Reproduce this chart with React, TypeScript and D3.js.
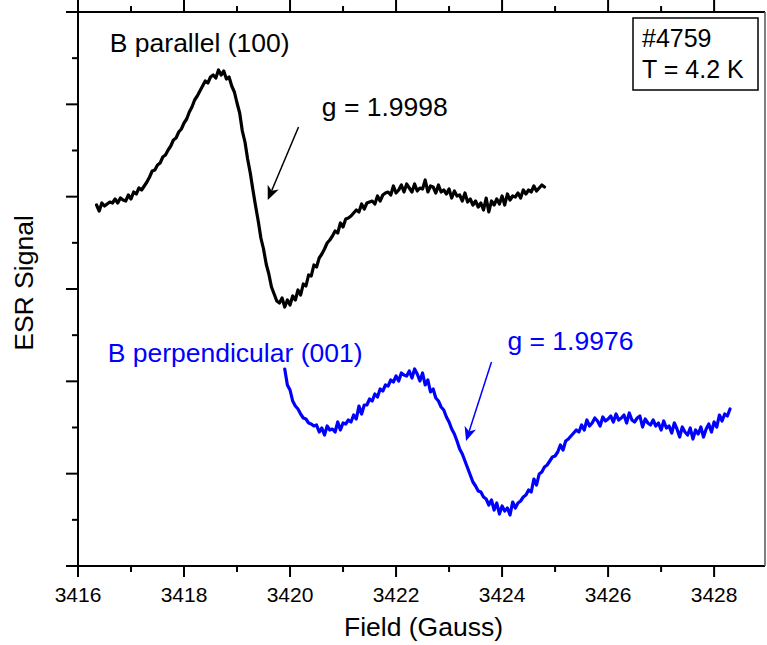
import React from "react";
import * as d3 from "d3";

// Field sampling (Gauss) and ESR signal (arbitrary units)
const parStart = 3416.35;
const perpStart = 3419.9;
const fieldStep = 0.05;

const parallelSignal = [
  84, 78, 86, 83, 85, 87, 86, 90, 86, 91, 89, 88, 94, 90, 97, 95, 101, 99, 103, 107,
  112, 118, 119, 124, 126, 132, 134, 139, 143, 149, 151, 157, 160, 166, 170, 177, 182, 189, 193, 198,
  203, 208, 206, 212, 214, 211, 219, 214, 218, 210, 212, 203, 197, 186, 176, 158, 147, 130, 116, 99,
  83, 68, 51, 40, 25, 15, 2, -5, -12, -14, -9, -18, -11, -16, -7, -11, -1, -6, 5, 3,
  14, 13, 24, 22, 31, 35, 40, 46, 49, 53, 58, 56, 66, 62, 70, 71, 73, 76, 79, 77,
  85, 80, 86, 87, 88, 85, 93, 88, 94, 96, 97, 94, 103, 96, 99, 104, 97, 105, 101, 97,
  105, 98, 101, 100, 109, 97, 103, 102, 96, 104, 97, 99, 95, 100, 91, 98, 93, 94, 88, 96,
  87, 90, 84, 88, 82, 86, 79, 91, 77, 88, 84, 90, 85, 93, 84, 95, 89, 93, 92, 96,
  91, 99, 95, 99, 97, 103, 98, 101, 104, 102,
];

const perpendicularSignal = [
  -80, -96, -101, -112, -117, -120, -125, -129, -130, -134, -135, -137, -136, -143, -139, -146, -137, -141, -140, -143,
  -133, -141, -134, -135, -131, -133, -126, -130, -117, -125, -116, -116, -110, -112, -105, -108, -100, -102, -96, -97,
  -91, -93, -87, -92, -84, -86, -87, -82, -89, -80, -85, -92, -84, -96, -91, -103, -100, -109, -112, -118,
  -121, -128, -133, -140, -145, -152, -160, -165, -172, -179, -186, -193, -197, -202, -203, -208, -210, -216, -211, -221,
  -214, -225, -217, -222, -219, -226, -213, -219, -214, -212, -208, -206, -201, -203, -190, -196, -185, -183, -178, -176,
  -172, -168, -167, -163, -156, -161, -152, -150, -147, -144, -141, -143, -136, -141, -131, -137, -134, -129, -132, -137,
  -128, -132, -130, -127, -133, -125, -131, -129, -126, -134, -124, -131, -133, -129, -127, -138, -130, -134, -136, -131,
  -137, -134, -141, -132, -139, -137, -144, -134, -140, -148, -138, -143, -146, -139, -150, -141, -145, -138, -148, -140,
  -135, -143, -133, -138, -126, -132, -125, -127, -120,
];

const xTicksMajor = [3416, 3418, 3420, 3422, 3424, 3426, 3428];
const xTicksMinor = [3417, 3419, 3421, 3423, 3425, 3427];
const xDomain = [3416, 3428.96];
const yDomain = [-277, 277];
const yTickSteps = [-3, -2, -1, 0, 1, 2, 3];

const labels = [
  { text: "B parallel (100)", x: 3416.6, y: 237, color: "#000" },
  { text: "B perpendicular (001)", x: 3416.56, y: -73, color: "#0000ff" },
  { text: "g = 1.9998", x: 3420.6, y: 173, color: "#000" },
  { text: "g = 1.9976", x: 3424.1, y: -61, color: "#0000ff" },
];

const arrows = [
  { x1: 3420.16, y1: 162, x2: 3419.58, y2: 89, color: "#000" },
  { x1: 3423.8, y1: -73, x2: 3423.32, y2: -152, color: "#0000ff" },
];

const infoLines = ["#4759", "T = 4.2 K"];

export default function App() {
  const W = 767, H = 645;
  const left = 78, right = 765, top = 12, bottom = 566;
  const x = d3.scaleLinear().domain(xDomain).range([left, right]);
  const y = d3.scaleLinear().domain(yDomain).range([bottom, top]);
  const yMajorStep = (yDomain[1] - yDomain[0]) / 6;
  const yMajor = yTickSteps.map((k) => k * yMajorStep);
  const yMinor = yTickSteps.slice(0, -1).map((k) => (k + 0.5) * yMajorStep);

  const mk = (start: number, vals: number[]) =>
    d3
      .line<number>()
      .x((_, i) => x(start + i * fieldStep))
      .y((d) => y(d))(vals) as string;

  const font = "'Liberation Sans', Arial, Helvetica, sans-serif";

  const arrowEls = arrows.map((a, i) => {
    const X1 = x(a.x1), Y1 = y(a.y1), X2 = x(a.x2), Y2 = y(a.y2);
    const ang = Math.atan2(Y2 - Y1, X2 - X1);
    const L = 14, w = 6, notch = 10;
    const ux = Math.cos(ang), uy = Math.sin(ang);
    const px = -uy, py = ux;
    const bx = X2 - ux * L, by = Y2 - uy * L;
    const nx = X2 - ux * notch, ny = Y2 - uy * notch;
    const head = `M${X2},${Y2} L${bx + px * w},${by + py * w} L${nx},${ny} L${bx - px * w},${by - py * w} Z`;
    return (
      <g key={i}>
        <line x1={X1} y1={Y1} x2={nx} y2={ny} stroke={a.color} strokeWidth={1.5} />
        <path d={head} fill={a.color} />
      </g>
    );
  });

  return (
    <svg
      width={W}
      height={H}
      style={{ position: "absolute", left: 0, top: 0, background: "#fff" }}
      fontFamily={font}
    >
      <rect x={0} y={0} width={W} height={H} fill="#fff" />
      {/* frame */}
      <line x1={left} y1={top} x2={left} y2={bottom} stroke="#000" strokeWidth={2} />
      <line x1={left - 12} y1={bottom} x2={right} y2={bottom} stroke="#000" strokeWidth={2} />
      <line x1={left - 12} y1={top} x2={right} y2={top} stroke="#000" strokeWidth={2} />
      <line x1={right} y1={top} x2={right} y2={bottom} stroke="#555" strokeWidth={1.5} />

      {/* x ticks */}
      {xTicksMajor.map((t) => (
        <g key={"xm" + t}>
          <line x1={x(t)} x2={x(t)} y1={bottom} y2={bottom + 11} stroke="#000" strokeWidth={2} />
          <line x1={x(t)} x2={x(t)} y1={top} y2={top - 12} stroke="#000" strokeWidth={2} />
          <text x={x(t)} y={602} fontSize={21} textAnchor="middle" fill="#000">
            {t}
          </text>
        </g>
      ))}
      {xTicksMinor.map((t) => (
        <g key={"xn" + t}>
          <line x1={x(t)} x2={x(t)} y1={bottom} y2={bottom + 6} stroke="#000" strokeWidth={2} />
          <line x1={x(t)} x2={x(t)} y1={top} y2={top - 6} stroke="#000" strokeWidth={2} />
        </g>
      ))}
      {/* y ticks */}
      {yMajor.map((t, i) => (
        <line key={"ym" + i} x1={left - 12} x2={left} y1={y(t)} y2={y(t)} stroke="#000" strokeWidth={2} />
      ))}
      {yMinor.map((t, i) => (
        <line key={"yn" + i} x1={left - 6} x2={left} y1={y(t)} y2={y(t)} stroke="#000" strokeWidth={2} />
      ))}

      {/* axis titles */}
      <text x={(left + right) / 2 + 2} y={636} fontSize={26.5} textAnchor="middle" fill="#000">
        Field (Gauss)
      </text>
      <text
        transform={`translate(33,283) rotate(-90)`}
        fontSize={26.5}
        textAnchor="middle"
        fill="#000"
      >
        ESR Signal
      </text>

      {/* curves */}
      <path
        d={mk(parStart, parallelSignal)}
        fill="none"
        stroke="#000"
        strokeWidth={3.2}
        strokeLinejoin="round"
        strokeLinecap="round"
      />
      <path
        d={mk(perpStart, perpendicularSignal)}
        fill="none"
        stroke="#0000ff"
        strokeWidth={3.2}
        strokeLinejoin="round"
        strokeLinecap="round"
      />

      {/* annotations */}
      {labels.map((l, i) => (
        <text key={i} x={x(l.x)} y={y(l.y)} fontSize={26.5} fill={l.color}>
          {l.text}
        </text>
      ))}
      {arrowEls}

      {/* info box */}
      <rect x={633} y={18} width={125} height={72} fill="#fff" stroke="#000" strokeWidth={1.5} />
      {infoLines.map((t, i) => (
        <text key={i} x={642} y={47 + i * 31} fontSize={25} fill="#000">
          {t}
        </text>
      ))}
    </svg>
  );
}
